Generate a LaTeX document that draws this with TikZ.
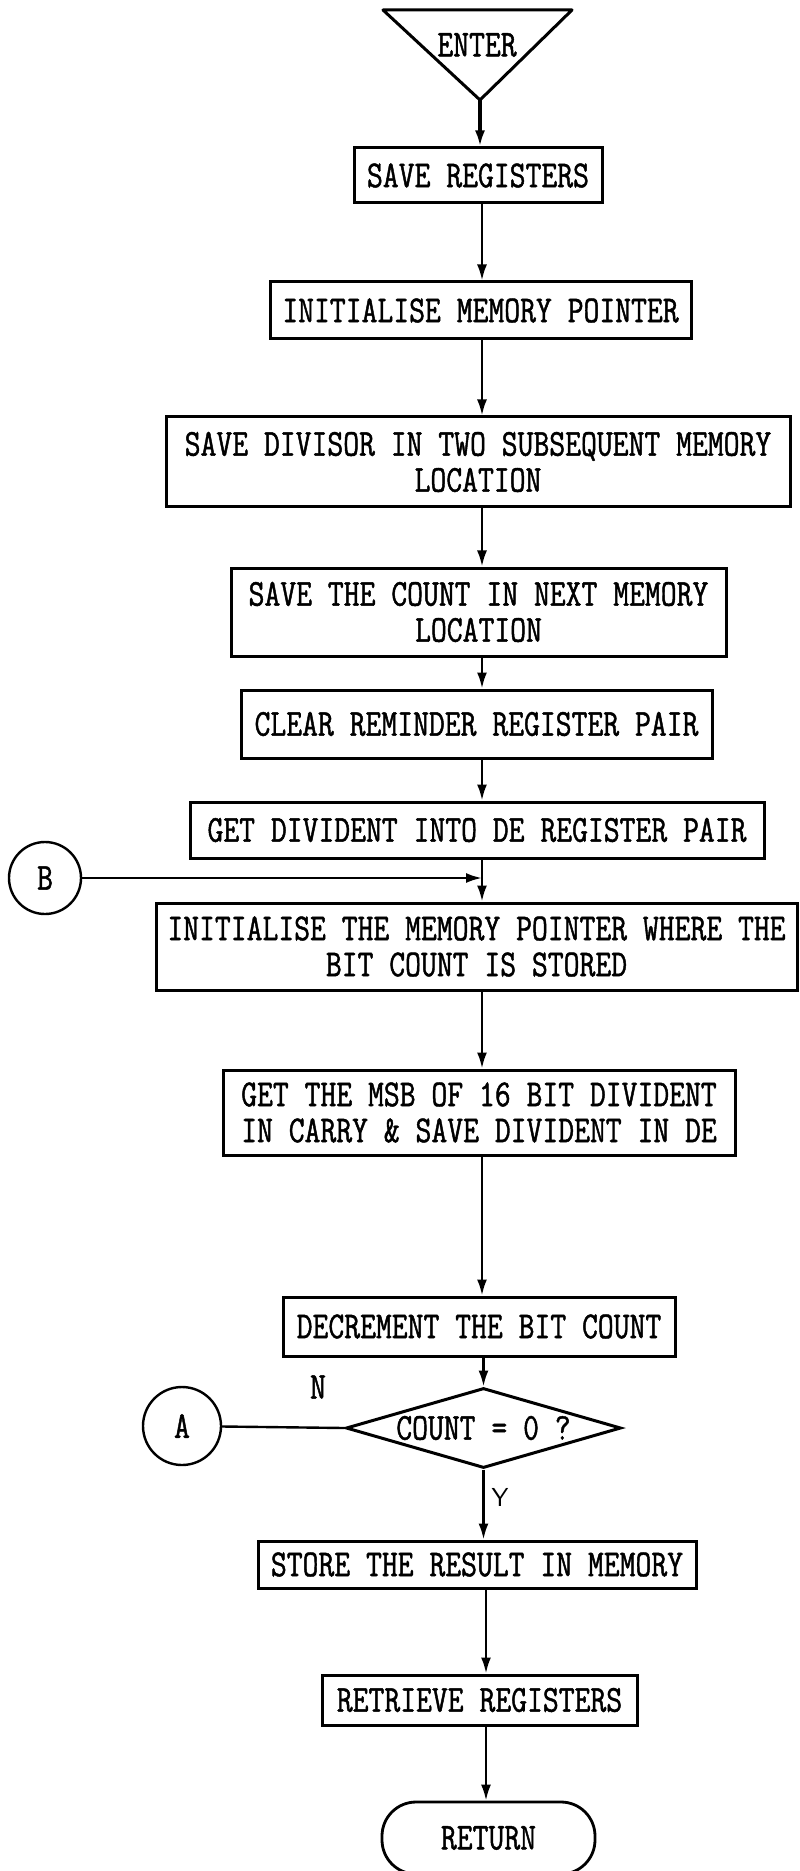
\documentclass[tikz,border=0pt]{standalone}
\usepackage{fontspec}
\setmainfont{Latin Modern Mono}[FakeStretch=0.81, FakeBold=1.2]
\usetikzlibrary{arrows.meta,shapes.geometric}

\begin{document}
\begin{tikzpicture}[x=0.5pt,y=-0.5pt,
  every node/.style={font=\fontsize{19}{18}\selectfont},
  proc/.style={draw, line width=1.5pt, rectangle, inner sep=0pt, align=center},
  conn/.style={draw, line width=1.2pt, circle, inner sep=0pt},
  arr/.style={line width=1.2pt, -{Latex[length=8pt,width=5pt]}},
  lin/.style={line width=1.2pt},
]
\useasboundingbox (0,0) rectangle (799,1871);

% flow axis
\coordinate (ax) at (482,0);
\coordinate (ax2) at (486,0);

% entry triangle
\coordinate (tl) at (383,10);
\coordinate (tr) at (572,10);
\coordinate (tip) at (480,100);
\draw[line width=1.5pt, line join=round] (tl) -- (tr) -- (tip) -- cycle;
\node (enter) at (477,45) {ENTER};

% process boxes
\node[proc, minimum width=124pt, minimum height=27.5pt] (savereg) at (478,175.5) {SAVE REGISTERS};
\node[proc, minimum width=210.5pt, minimum height=28.5pt] (initmem) at (480.5,310.5) {INITIALISE MEMORY POINTER};
\node[proc, minimum width=312pt, minimum height=45pt] (savediv) at (478,462) {SAVE DIVISOR IN TWO SUBSEQUENT MEMORY\\LOCATION};
\node[proc, minimum width=247.5pt, minimum height=44pt] (savecnt) at (478.5,612) {SAVE THE COUNT IN NEXT MEMORY\\LOCATION};
\node[proc, minimum width=235.5pt, minimum height=34pt] (clear) at (476.5,724) {CLEAR REMINDER REGISTER PAIR};
\node[proc, minimum width=287pt, minimum height=28pt] (getdiv) at (477,830) {GET DIVIDENT INTO DE REGISTER PAIR};
\node[proc, minimum width=320.5pt, minimum height=43.5pt] (initbit) at (476.5,946.5) {INITIALISE THE MEMORY POINTER WHERE THE\\BIT COUNT IS STORED};
\node[proc, minimum width=256pt, minimum height=42.5pt] (getmsb) at (479,1112.5) {GET THE MSB OF 16 BIT DIVIDENT\\IN CARRY \& SAVE DIVIDENT IN DE};
\node[proc, minimum width=196pt, minimum height=29.5pt] (decr) at (479,1326.5) {DECREMENT THE BIT COUNT};
\node[draw, diamond, line width=1.5pt, minimum width=137.5pt, minimum height=40pt, inner sep=0pt, aspect=3.4] (cnt) at (483.5,1428) {COUNT = 0 ?};
\node[proc, minimum width=219pt, minimum height=23.5pt] (store) at (477,1564.5) {STORE THE RESULT IN MEMORY};
\node[proc, minimum width=157.5pt, minimum height=25pt] (retr) at (479.5,1700) {RETRIEVE REGISTERS};
\node[draw, line width=1.4pt, rounded corners=17pt, minimum width=106.5pt, minimum height=36pt, inner sep=0pt] (ret) at (488.5,1838) {RETURN};

% off-page connectors
\node[conn, minimum size=36pt] (B) at (45,878) {B};
\node[conn, minimum size=39pt] (A) at (182,1426) {A};

% branch labels
\node (nlab) at (318,1387) {N};
\node[font=\sffamily\fontsize{13}{13}\selectfont] (ylab) at (500,1497) {Y};

% connectors
\draw[arr, line width=1.8pt] (tip) -- (savereg.north -| tip);
\draw[arr] (savereg.south -| ax) -- (initmem.north -| ax);
\draw[arr] (initmem.south -| ax) -- (savediv.north -| ax);
\draw[arr] (savediv.south -| ax) -- (savecnt.north -| ax);
\draw[arr] (savecnt.south -| ax) -- (clear.north -| ax);
\draw[arr] (clear.south -| ax) -- (getdiv.north -| ax);
\draw[arr] (getdiv.south -| ax) -- (initbit.north -| ax);
\draw[arr] (B.east) -- (B.east -| ax);
\draw[arr] (initbit.south -| ax) -- (getmsb.north -| ax);
\draw[arr] (getmsb.south -| ax) -- (decr.north -| ax);
\draw[arr] (decr.south -| cnt.north) -- (cnt.north);
\draw[arr] (cnt.south) -- (store.north -| cnt.south);
\draw[lin] (cnt.west) -- (A);
\draw[arr] (store.south -| ax2) -- (retr.north -| ax2);
\draw[arr] (retr.south -| ax2) -- (ret.north -| ax2);
\end{tikzpicture}
\end{document}
